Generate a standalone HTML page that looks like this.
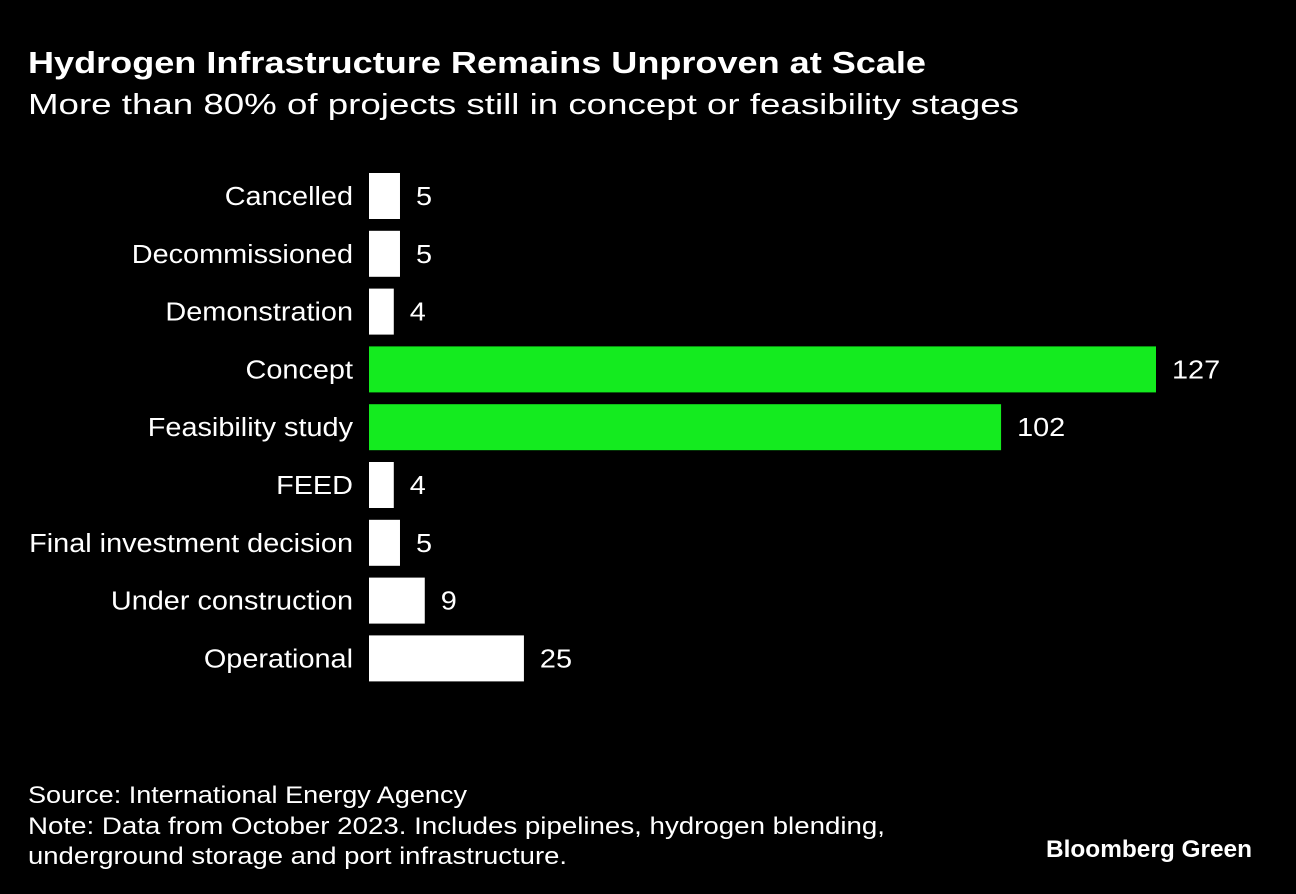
<!DOCTYPE html>
<html><head><meta charset="utf-8"><style>
html,body{margin:0;padding:0;background:#000;}
svg{display:block;font-family:"Liberation Sans",Arial,sans-serif;}
</style></head><body>
<svg id="chart" width="1296" height="894" viewBox="0 0 1296 894">
<rect width="1296" height="894" fill="#000"/>
<text x="28" y="73" fill="#fff" font-size="31" font-weight="bold" textLength="898" lengthAdjust="spacingAndGlyphs">Hydrogen Infrastructure Remains Unproven at Scale</text>
<text x="28" y="114" fill="#fff" font-size="29" textLength="991" lengthAdjust="spacingAndGlyphs">More than 80% of projects still in concept or feasibility stages</text>
<g id="bars"></g>
<text x="28" y="803" fill="#fff" font-size="24" textLength="439" lengthAdjust="spacingAndGlyphs">Source: International Energy Agency</text>
<text x="28" y="834" fill="#fff" font-size="24" textLength="857" lengthAdjust="spacingAndGlyphs">Note: Data from October 2023. Includes pipelines, hydrogen blending,</text>
<text x="28" y="864" fill="#fff" font-size="24" textLength="539" lengthAdjust="spacingAndGlyphs">underground storage and port infrastructure.</text>
<text x="1046" y="857" fill="#fff" font-size="24" font-weight="bold" textLength="206" lengthAdjust="spacingAndGlyphs">Bloomberg Green</text>
</svg>
<script>
const categories = ["Cancelled","Decommissioned","Demonstration","Concept","Feasibility study","FEED","Final investment decision","Under construction","Operational"];
const values = [5,5,4,127,102,4,5,9,25];
const highlighted = [false,false,false,true,true,false,false,false,false];
const x0 = 369, pxPerUnit = 787/127;
const rowTop = 173, rowStep = 57.8, barH = 46;
const xScale = v => x0 + v*pxPerUnit;
const yScale = i => rowTop + i*rowStep;
const ns = "http://www.w3.org/2000/svg";
const g = document.getElementById('bars');
categories.forEach((c,i)=>{
  const y = yScale(i);
  const r = document.createElementNS(ns,'rect');
  
  
  r.setAttribute('x', x0); r.setAttribute('y', y);
  r.setAttribute('width', xScale(values[i]) - x0); r.setAttribute('height', barH);
  r.setAttribute('fill', highlighted[i] ? '#14eb1f' : '#fff');
  g.appendChild(r);
  const l = document.createElementNS(ns,'text');
  
  
  l.setAttribute('transform', 'translate(353,' + (y + barH/2 + 9) + ') scale(1.11,1)');
  l.setAttribute('text-anchor','end'); l.setAttribute('fill','#fff'); l.setAttribute('font-size','26');
  l.textContent = c; g.appendChild(l);
  const v = document.createElementNS(ns,'text');
  
  
  v.setAttribute('transform', 'translate(' + (xScale(values[i]) + 16) + ',' + (y + barH/2 + 9) + ') scale(1.11,1)');
  v.setAttribute('fill','#fff'); v.setAttribute('font-size','26');
  v.textContent = values[i]; g.appendChild(v);
});
</script>
</body></html>
